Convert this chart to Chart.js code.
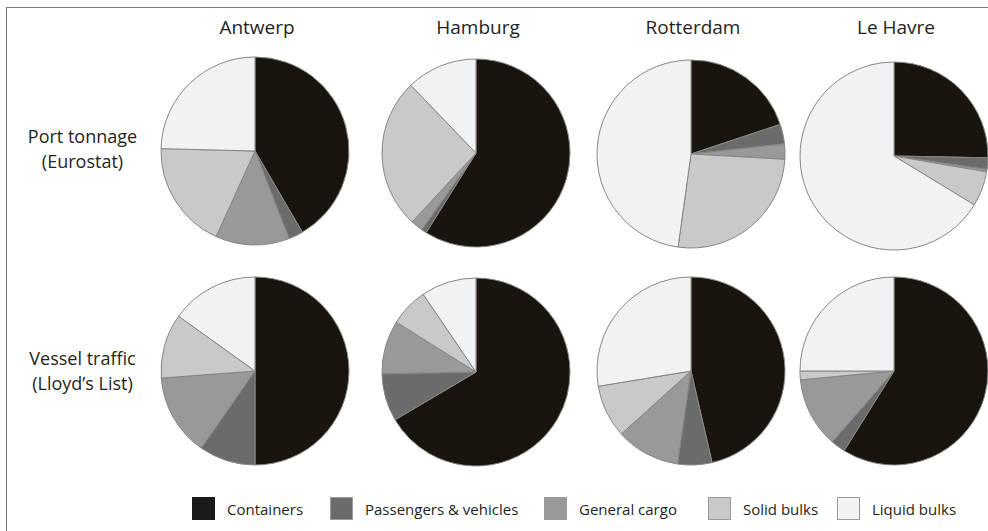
<!DOCTYPE html>
<html>
<head>
<meta charset="utf-8">
<script src="https://cdn.jsdelivr.net/npm/chart.js@4.4.1/dist/chart.umd.min.js"></script>
<style>
  html, body { margin: 0; padding: 0; width: 988px; height: 531px; overflow: hidden; background: #fff; }
  body { position: relative; font-family: "Open Sans", "Noto Sans", sans-serif; color: #231f20; }
  #frame { position: absolute; left: 6px; top: 7px; width: 1100px; height: 600px; border-left: 1px solid #7a7a7a; border-top: 1px solid #7a7a7a; }
  .pie { position: absolute; width: 200px; height: 200px; }
  .title { position: absolute; top: 14px; width: 200px; text-align: center; font-size: 19px; line-height: 26px; }
  .row { position: absolute; left: 10px; width: 145px; text-align: center; font-size: 18px; line-height: 25px; }
  .lg-box { position: absolute; top: 497px; width: 23px; height: 23px; box-sizing: border-box; border: 1px solid #9a9a9a; }
  .lg-text { position: absolute; top: 498px; font-size: 15px; line-height: 22px; white-space: nowrap; }
</style>
</head>
<body>
<div id="frame"></div>
<script>
// ---- data ----
const categories = ['Containers', 'Passengers & vehicles', 'General cargo', 'Solid bulks', 'Liquid bulks'];
const ports = ['Antwerp', 'Hamburg', 'Rotterdam', 'Le Havre'];
const rowLabels = [['Port tonnage', '(Eurostat)'], ['Vessel traffic', '(Lloyd\u2019s List)']];

// Port tonnage (Eurostat), % share per category
const tonnageAntwerp   = [41.6, 2.5, 12.7, 18.6, 24.6];
const tonnageHamburg   = [58.9, 0.9, 2.1, 25.9, 12.2];
const tonnageRotterdam = [19.9, 3.4, 2.6, 26.3, 47.8];
const tonnageLeHavre   = [25.3, 2.0, 0.4, 6.0, 66.3];

// Vessel traffic (Lloyd's List), % share per category
const vesselAntwerp    = [50.0, 9.7, 14.1, 11.1, 15.1];
const vesselHamburg    = [66.5, 8.2, 9.2, 6.6, 9.5];
const vesselRotterdam  = [46.4, 5.9, 11.0, 9.1, 27.6];
const vesselLeHavre    = [58.9, 2.5, 12.1, 1.5, 25.0];

// ---- styling / layout ----
const colors = ['#17150d', '#6b6b6b', '#999999', '#c9c9c9', '#f2f2f2'];
const legendColors = ['#1a1a1a', '#6b6b6b', '#999999', '#c9c9c9', '#f2f2f2'];
const colX = [255, 476, 691, 894];
const rowY = [[151, 153, 154, 156], [371, 372, 371, 371]];
const rowLabelY = [151, 373];
const radius = 94;

const rows = [
  [tonnageAntwerp, tonnageHamburg, tonnageRotterdam, tonnageLeHavre],
  [vesselAntwerp, vesselHamburg, vesselRotterdam, vesselLeHavre]
];

// titles
ports.forEach((p, i) => {
  const d = document.createElement('div');
  d.className = 'title';
  d.style.left = (colX[i] - 100 + 2) + 'px';
  d.textContent = p;
  document.body.appendChild(d);
});
// row labels
rowLabels.forEach((lines, r) => {
  const d = document.createElement('div');
  d.className = 'row';
  d.style.top = (rowLabelY[r] - 25 - 2) + 'px';
  d.innerHTML = lines.join('<br>');
  document.body.appendChild(d);
});

// pies
rows.forEach((series, r) => {
  series.forEach((vals, c) => {
    const wrap = document.createElement('div');
    wrap.className = 'pie';
    wrap.style.left = (colX[c] - 100) + 'px';
    wrap.style.top = (rowY[r][c] - 100) + 'px';
    const cv = document.createElement('canvas');
    wrap.appendChild(cv);
    document.body.appendChild(wrap);
    new Chart(cv, {
      type: 'pie',
      data: {
        labels: categories,
        datasets: [{
          data: vals,
          backgroundColor: colors,
          borderColor: '#858585',
          borderWidth: 1
        }]
      },
      options: {
        responsive: true,
        maintainAspectRatio: false,
        animation: false,
        radius: radius,
        layout: { padding: 0 },
        plugins: { legend: { display: false }, tooltip: { enabled: false } }
      }
    });
  });
});

// legend
const lgBoxX = [192, 330, 544, 708, 837];
categories.forEach((cat, i) => {
  const b = document.createElement('div');
  b.className = 'lg-box';
  b.style.left = lgBoxX[i] + 'px';
  b.style.background = legendColors[i];
  if (i === 0) b.style.borderColor = '#1a1a1a';
  document.body.appendChild(b);
  const t = document.createElement('div');
  t.className = 'lg-text';
  t.style.left = (lgBoxX[i] + 35) + 'px';
  t.textContent = cat;
  document.body.appendChild(t);
});
</script>
</body>
</html>
